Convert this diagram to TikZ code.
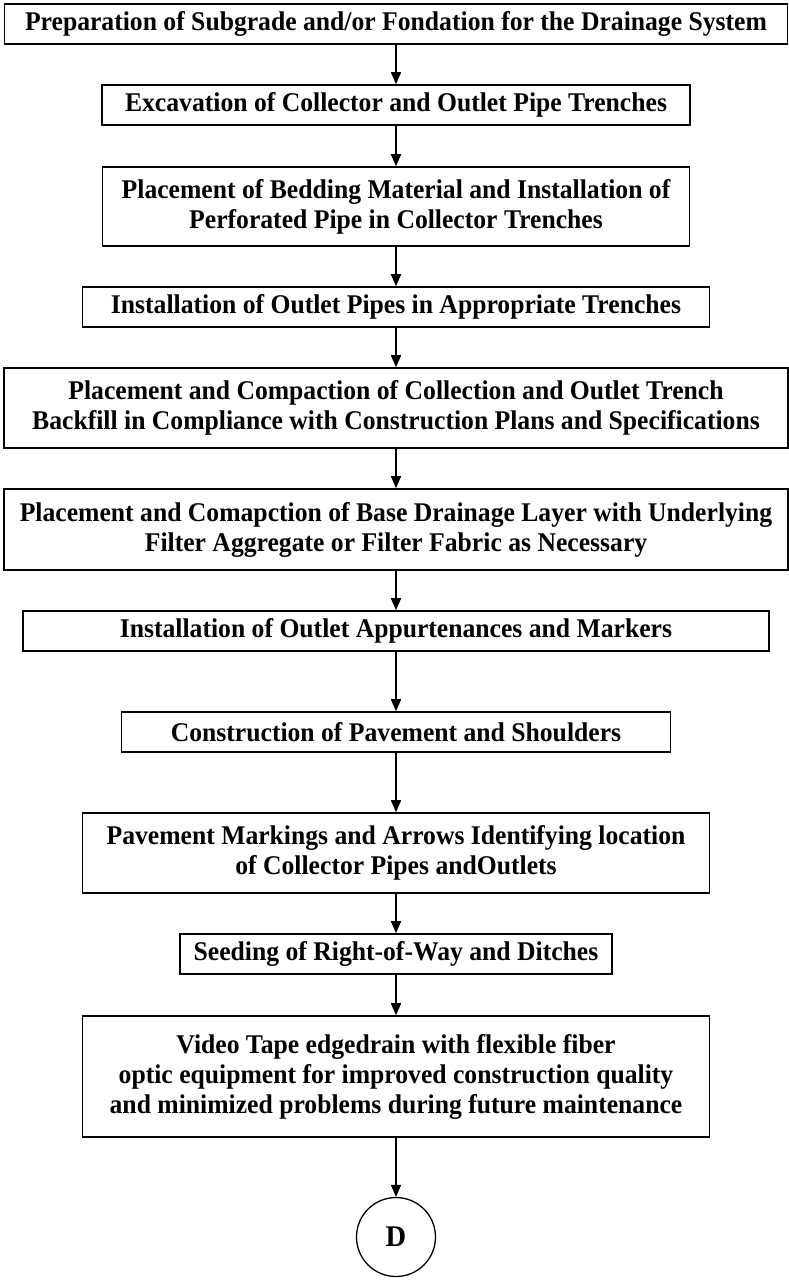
\documentclass[tikz,border=0pt]{standalone}
\usepackage{fontspec}
\setmainfont{Liberation Serif}[FakeStretch=0.95]
\usetikzlibrary{arrows.meta}
\begin{document}
\begin{tikzpicture}[x=1pt,y=-1pt,
  box/.style={draw, line width=1.6pt, inner sep=0pt, align=center,
    font=\fontsize{27}{30}\selectfont\bfseries},
  flow/.style={line width=1.6pt, -{Triangle[length=12pt,width=10pt]}}]
\useasboundingbox (0,0) rectangle (789,1280);
\node[box, minimum width=783pt, minimum height=40pt] (b1) at (396,24) {Preparation of Subgrade and/or Fondation for the Drainage System};
\node[box, minimum width=588pt, minimum height=40pt] (b2) at (396,105) {Excavation of Collector and Outlet Pipe Trenches};
\node[box, minimum width=587pt, minimum height=79pt] (b3) at (396,206.5) {Placement of Bedding Material and Installation of\\Perforated Pipe in Collector Trenches};
\node[box, minimum width=627pt, minimum height=40pt] (b4) at (396,307) {Installation of Outlet Pipes in Appropriate Trenches};
\node[box, minimum width=784pt, minimum height=80pt] (b5) at (396,408) {Placement and Compaction of Collection and Outlet Trench\\Backfill in Compliance with Construction Plans and Specifications};
\node[box, minimum width=784pt, minimum height=81pt] (b6) at (396,529.5) {Placement and Comapction of Base Drainage Layer with Underlying\\Filter Aggregate or Filter Fabric as Necessary};
\node[box, minimum width=746pt, minimum height=40pt] (b7) at (396,631) {Installation of Outlet Appurtenances and Markers};
\node[box, minimum width=549pt, minimum height=40pt] (b8) at (396,732) {Construction of Pavement and Shoulders};
\node[box, minimum width=627pt, minimum height=80pt] (b9) at (396,853) {Pavement Markings and Arrows Identifying location\\of Collector Pipes andOutlets};
\node[box, minimum width=432pt, minimum height=40pt] (b10) at (396,954) {Seeding of Right-of-Way and Ditches};
\node[box, minimum width=627pt, minimum height=121pt] (b11) at (396,1076.5) {Video Tape edgedrain with flexible fiber\\optic equipment for improved construction quality\\and minimized problems during future maintenance};
\node[box, circle, line width=1.3pt, minimum size=79pt, font=\fontsize{30}{30}\selectfont\bfseries] (d) at (396,1237) {D};
\draw[flow] (b1) -- (b2);
\draw[flow] (b2) -- (b3);
\draw[flow] (b3) -- (b4);
\draw[flow] (b4) -- (b5);
\draw[flow] (b5) -- (b6);
\draw[flow] (b6) -- (b7);
\draw[flow] (b7) -- (b8);
\draw[flow] (b8) -- (b9);
\draw[flow] (b9) -- (b10);
\draw[flow] (b10) -- (b11);
\draw[flow] (b11) -- (d);
\end{tikzpicture}
\end{document}
